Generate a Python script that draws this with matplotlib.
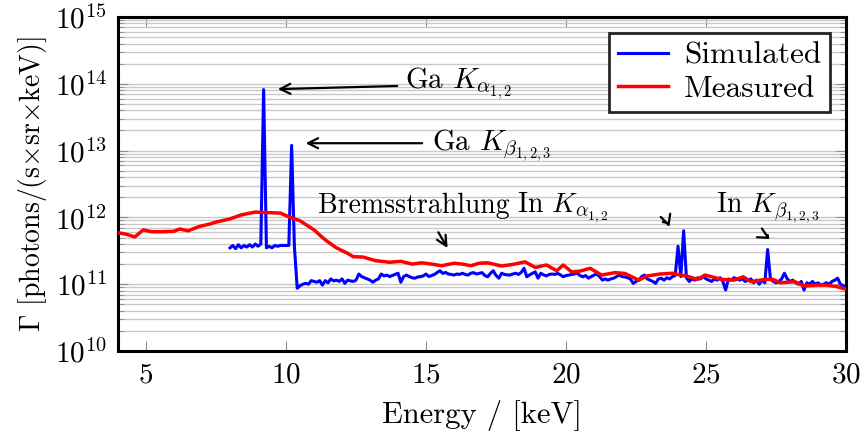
import numpy as np
import matplotlib
matplotlib.use('Agg')
import matplotlib.pyplot as plt
from matplotlib.ticker import LogLocator, NullFormatter

plt.rcParams['font.family'] = 'serif'
plt.rcParams['font.serif'] = ['cmr10']
plt.rcParams['mathtext.fontset'] = 'cm'
plt.rcParams['axes.formatter.use_mathtext'] = True
plt.rcParams['font.size'] = 21

# simulated spectrum, 0.1 keV bins from 8.0 keV, units of 1e11
sim_start = 8.0
sim_step = 0.1
sim = [
    3.5, 3.8, 3.4, 3.9, 3.5, 3.8, 3.6, 3.9, 3.6, 4.0,        # 8
    3.7, 4.0, 820, 3.5, 3.7, 3.5, 3.8, 3.7, 3.8, 3.8,        # 9
    3.8, 3.8, 120, 3.6, 0.87, 0.95, 1.0, 1.03, 1.0, 1.13,    # 10
    1.1, 1.07, 1.13, 0.97, 1.13, 1.05, 1.2, 1.12, 1.15, 1.1,  # 11
    1.2, 1.03, 1.15, 1.12, 1.1, 1.15, 1.42, 1.3, 1.25, 1.2,   # 12
    1.15, 1.07, 1.15, 1.2, 1.42, 1.33, 1.37, 1.3, 1.35, 1.4,  # 13
    1.46, 1.07, 1.3, 1.37, 1.3, 1.25, 1.23, 1.28, 1.3, 1.33,  # 14
    1.42, 1.3, 1.35, 1.4, 1.5, 1.59, 1.45, 1.5, 1.42, 1.4,    # 15
    1.37, 1.42, 1.4, 1.46, 1.4, 1.37, 1.46, 1.49, 1.42, 1.45, # 16
    1.49, 1.35, 1.29, 1.45, 1.59, 1.35, 1.23, 1.46, 1.4, 1.38, # 17
    1.37, 1.42, 1.46, 1.4, 1.5, 1.73, 1.29, 1.38, 1.45, 1.53, # 18
    1.23, 1.46, 1.38, 1.33, 1.4, 1.42, 1.4, 1.45, 1.38, 1.29, # 19
    1.35, 1.37, 1.4, 1.42, 1.46, 1.35, 1.29, 1.35, 1.23, 1.3, # 20
    1.37, 1.42, 1.3, 1.15, 1.2, 1.15, 1.2, 1.23, 1.3, 1.37,   # 21
    1.3, 1.28, 1.25, 1.2, 1.03, 1.1, 1.15, 1.3, 1.37, 1.2,    # 22
    1.15, 1.1, 1.03, 1.2, 1.23, 1.15, 1.25, 1.2, 1.3, 1.35,   # 23
    3.7, 1.3, 6.3, 1.25, 1.1, 1.2, 1.15, 1.25, 1.2, 1.3,      # 24
    1.2, 1.15, 1.1, 1.2, 1.15, 1.25, 1.1, 0.82, 1.2, 1.15,    # 25
    1.25, 1.2, 1.15, 1.2, 1.1, 1.15, 1.2, 1.05, 1.15, 1.0,    # 26
    1.15, 1.05, 3.3, 1.2, 1.1, 1.05, 1.1, 1.2, 1.46, 1.2,     # 27
    1.1, 1.15, 1.05, 1.0, 1.1, 0.82, 1.05, 1.0, 1.1, 1.0,     # 28
    1.05, 0.97, 1.0, 1.05, 1.0, 1.1, 1.15, 1.23, 1.0, 0.95,   # 29
    0.87,                                                     # 30
]

# measured spectrum, units of 1e11
meas_E = [4.0, 4.3, 4.6, 4.9, 5.2, 5.6, 6.0, 6.2, 6.5, 6.9, 7.3, 7.5, 8.0,
          8.4, 8.9, 9.3, 9.8, 10.1, 10.5, 11.0, 11.4, 11.8, 12.2, 12.4,
          12.75, 13.2, 13.7, 14.1, 14.5, 14.85, 15.2, 15.56, 16.0, 16.3,
          16.6, 16.9, 17.2, 17.7, 18.1, 18.54, 18.9, 19.3, 19.67, 19.9,
          20.2, 20.5, 20.86, 21.27, 21.75, 22.1, 22.6, 22.9, 23.36, 23.8,
          24.4, 24.7, 24.96, 25.56, 26.0, 26.33, 26.6, 27.1, 27.4, 27.64,
          28.18, 28.5, 29.0, 29.3, 29.67, 30.0]
meas = [5.9, 5.6, 5.1, 6.5, 6.1, 6.1, 6.2, 6.7, 6.3, 7.3, 8.0, 8.5, 9.5,
        10.9, 12.0, 11.8, 11.6, 10.2, 8.9, 6.5, 4.6, 3.5, 2.9, 2.58,
        2.55, 2.25, 2.13, 2.2, 2.0, 2.09, 2.0, 1.89, 2.06, 2.0,
        1.89, 2.06, 2.09, 1.87, 1.98, 2.16, 1.78, 1.94, 1.59, 1.94,
        1.53, 1.57, 1.73, 1.37, 1.49, 1.45, 1.15, 1.33, 1.42, 1.46,
        1.29, 1.18, 1.37, 1.18, 1.15, 1.29, 1.09, 1.18, 1.18, 1.05,
        1.09, 0.94, 0.97, 0.97, 0.92, 0.84]

sim_E = sim_start + sim_step * np.arange(len(sim))
sim = np.array(sim) * 1e11
meas = np.array(meas) * 1e11

fig = plt.figure(figsize=(8.64, 4.37), dpi=100)
ax = fig.add_axes([0.1366, 0.1968, 0.8426, 0.7643])

ax.plot(sim_E, sim, color='#0000ff', lw=2.2, label='Simulated', zorder=3)
ax.plot(meas_E, meas, color='#ff0000', lw=2.5, label='Measured', zorder=3)

ax.set_yscale('log')
ax.set_xlim(4, 30)
ax.set_ylim(1e10, 1e15)
ax.set_xticks([5, 10, 15, 20, 25, 30])
ax.yaxis.set_major_locator(LogLocator(base=10, numticks=10))
ax.yaxis.set_minor_locator(LogLocator(base=10, subs=np.arange(2, 10), numticks=20))
ax.yaxis.set_minor_formatter(NullFormatter())
ax.grid(True, which='both', axis='y', color='#c8c8c8', lw=1.0)
ax.set_axisbelow(True)
ax.tick_params(which='both', direction='in', top=True, right=True, color='0.55')
ax.tick_params(which='major', length=7, pad=8)
ax.tick_params(which='minor', length=4)
for sp in ax.spines.values():
    sp.set_linewidth(2.2)

ax.set_xlabel('Energy / [keV]', fontsize=22, labelpad=8)
ax.set_ylabel(r'$\Gamma$ [photons/(s$\times$sr$\times$keV)]', fontsize=20)

fs = 20
arr = dict(arrowstyle='->', color='black', lw=1.6, mutation_scale=18)
ax.annotate('', xy=(9.61, 8.3e13), xytext=(14.07, 9.3e13), arrowprops=arr)
ax.text(14.25, 8.7e13, r'Ga $K_{\alpha_{1,2}}$', ha='left', va='baseline', fontsize=21)
ax.annotate('', xy=(10.6, 1.29e13), xytext=(14.96, 1.29e13), arrowprops=arr)
ax.text(15.21, 1.02e13, r'Ga $K_{\beta_{1,2,3}}$', ha='left', va='baseline', fontsize=21)
ax.text(11.14, 1.17e12, 'Bremsstrahlung', ha='left', va='baseline', fontsize=fs)
ax.annotate('', xy=(15.82, 3.2e11), xytext=(15.39, 6.5e11), arrowprops=arr)
ax.text(18.25, 1.17e12, r'In $K_{\alpha_{1,2}}$', ha='left', va='baseline', fontsize=fs)
ax.annotate('', xy=(23.71, 6.5e11), xytext=(23.36, 8.5e11),
            arrowprops=dict(arr, connectionstyle='arc3,rad=-0.5'))
ax.text(25.36, 1.17e12, r'In $K_{\beta_{1,2,3}}$', ha='left', va='baseline', fontsize=fs)
ax.annotate('', xy=(27.39, 4.6e11), xytext=(27.21, 6.0e11),
            arrowprops=dict(arr, connectionstyle='arc3,rad=0.5'))

leg = ax.legend(loc='upper right', fancybox=False, framealpha=1,
                edgecolor='0.15', borderaxespad=0.5, handlelength=1.6,
                handletextpad=0.5, labelspacing=0.15, borderpad=0.3,
                prop={'size': 22.5})
leg.get_frame().set_linewidth(2.0)

fig.savefig('out.png', dpi=100)
